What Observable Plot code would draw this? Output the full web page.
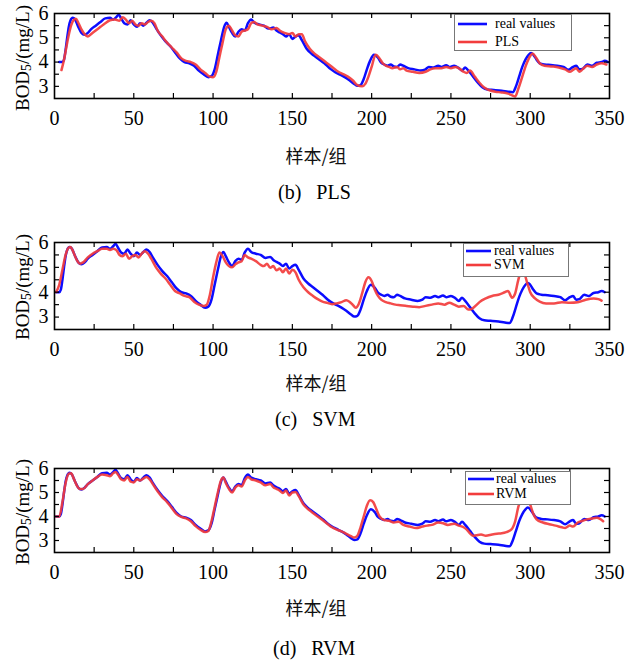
<!DOCTYPE html>
<html><head><meta charset="utf-8">
<script src="https://cdn.jsdelivr.net/npm/d3@7"></script>
<script src="https://cdn.jsdelivr.net/npm/@observablehq/plot@0.6"></script>
<style>
body{margin:0;background:#fff;}
#root{position:relative;width:637px;height:661px;overflow:hidden;font-family:"Times New Roman","Liberation Serif",Tinos,"DejaVu Serif",serif;color:#000;background:#fff;}
.panel{position:absolute;left:0;}
.ylab{position:absolute;white-space:nowrap;font-size:19px;line-height:19px;transform:translate(-50%,-50%) rotate(-90deg);}
.ylab sub{font-size:0.72em;vertical-align:-0.2em;line-height:0;}
.xlab{position:absolute;font-family:"Noto Sans CJK SC",sans-serif;font-size:18px;line-height:20px;transform:translateX(-50%);white-space:nowrap;color:#111;}
.cap{position:absolute;font-size:20px;line-height:20px;white-space:nowrap;}
.cap span{margin-left:15px;}
.legend{position:absolute;background:#fff;border:1px solid #777;box-sizing:border-box;}
.legend .row{position:absolute;height:12px;font-size:14px;line-height:12px;white-space:nowrap;}
.legend svg{position:absolute;}
</style></head><body><div id="root"></div><script>
// ---- data (sample index / BOD5 value) ----
const realT = [1,3,4,5,6,7,8,9.5,11,13,15,17,19,21,24,27,30,33,35,37,38.5,40,42,44,46,48,50,52,54,56,58,60,62,65,68,71,74,77,80,83,86,89,92,95,97,99,101,103,105,106.5,108,110,112,114,116,118,120,122,124,127,130,133,136,138,140,142,144,146,148,150,152,154,157,160,163,166,169,172,175,178,181,184,187,189,191,193,195,197,199.5,202,204,206,208,210,212,214,216,218,221,225,229,232,234,237,240,242,245,247,250,253,255,257,259,262,265,268,271,275,280,284,287,289,291,293,295,297,298.5,300,302,304,307,311,315,319,322,325,327,329,331,334,337,340,343,345,347];
const realV = [4.0,4.0,4.1,4.5,5.0,5.45,5.7,5.82,5.75,5.45,5.2,5.12,5.2,5.35,5.5,5.65,5.8,5.82,5.75,5.85,5.95,5.8,5.6,5.55,5.72,5.55,5.45,5.6,5.5,5.62,5.72,5.62,5.4,5.1,4.85,4.65,4.4,4.15,4.0,3.95,3.85,3.65,3.5,3.38,3.42,3.7,4.3,4.9,5.45,5.62,5.45,5.2,5.05,5.25,5.35,5.3,5.6,5.75,5.62,5.55,5.5,5.38,5.42,5.3,5.22,5.15,5.05,5.15,4.95,5.05,5.1,4.9,4.55,4.35,4.2,4.05,3.9,3.72,3.58,3.48,3.38,3.25,3.1,3.02,3.05,3.3,3.7,4.05,4.3,4.18,3.98,3.9,3.85,3.9,3.82,3.8,3.9,3.85,3.75,3.7,3.65,3.7,3.8,3.78,3.85,3.8,3.87,3.8,3.85,3.75,3.65,3.78,3.65,3.4,3.15,2.95,2.87,2.85,2.82,2.78,2.76,3.0,3.4,3.8,4.1,4.3,4.37,4.3,4.1,3.95,3.9,3.88,3.85,3.8,3.68,3.8,3.85,3.7,3.72,3.9,3.85,3.97,4.0,4.05,4.0];

const plsT = [4.4,6,8,10,12,13.5,15,17,19,21,23,26,29,32,35,38,41,43,45,47,49,51,53,55,57,59,61,63,65,68,71,74,77,80,83,86,89,92,95,98,100,102,104,106,108,110,112,114,116,118,120,122,124,126,128,131,134,137,140,142,145,148,150,152,154,156,158,161,164,167,170,173,176,179,182,185,188,191,194,196,198,200,202.5,205,207,209,211,213,216,218,220,222,226,230,234,237,240,244,247,250,253,256,258,260,262,265,268,271,274,278,282,286,289,290.5,292.5,295,297.5,300,301.5,303.5,306,309,314,318,322,325,327,329,331,333,336,339,342,345,348];
const plsV = [3.67,4.1,4.8,5.4,5.72,5.78,5.62,5.35,5.15,5.05,5.15,5.3,5.45,5.6,5.72,5.75,5.7,5.85,5.75,5.6,5.7,5.55,5.5,5.6,5.55,5.65,5.7,5.6,5.3,5.05,4.8,4.6,4.4,4.15,4.05,4.0,3.9,3.7,3.55,3.4,3.38,3.6,4.2,4.8,5.35,5.5,5.3,5.1,5.05,5.25,5.3,5.35,5.6,5.65,5.55,5.5,5.45,5.35,5.4,5.3,5.2,5.15,5.2,5.05,5.15,5.15,4.85,4.55,4.35,4.2,4.05,3.9,3.75,3.6,3.5,3.4,3.25,3.05,3.0,3.1,3.4,3.8,4.3,4.15,3.95,3.85,3.8,3.75,3.8,3.7,3.75,3.65,3.6,3.55,3.6,3.7,3.75,3.75,3.8,3.75,3.8,3.7,3.6,3.55,3.65,3.4,3.15,2.95,2.85,2.78,2.75,2.7,2.62,2.58,2.9,3.4,3.9,4.25,4.35,4.2,3.95,3.85,3.82,3.78,3.7,3.6,3.68,3.75,3.6,3.7,3.85,3.8,3.9,3.95,3.9];

const svmT = [1,3,5,7,9,10,12,14,16,18,21,24,27,30,33,35,37,39,41,43,45,47,49,51,53,55,57,59,61,64,67,70,73,76,79,82,85,88,91,94,96,98,100,102,104,106,108,110,112,114,116,118,120,122,124,127,130,132,134,136,138,140,142,144,146,148,150,152,154,157,160,163,166,169,172,175,178,181,184,186,188,190,192,194,196,198,200,202,204,206,209,212,215,218,222,226,230,234,238,242,246,249,252,255,258,261,263,266,268,272,276,280,284,286,288.5,290.5,292.5,294.5,296,298,300,303,306,310,315,320,325,330,335,340,343,345];
const svmV = [4.0,4.3,4.9,5.5,5.8,5.82,5.6,5.3,5.15,5.2,5.4,5.55,5.65,5.75,5.75,5.7,5.75,5.7,5.5,5.45,5.55,5.35,5.45,5.5,5.4,5.55,5.65,5.55,5.35,5.0,4.75,4.55,4.3,4.05,3.95,3.85,3.8,3.62,3.5,3.45,3.5,3.9,4.6,5.2,5.6,5.45,5.2,5.05,5.0,5.12,5.2,5.25,5.5,5.4,5.35,5.25,5.1,5.05,5.15,4.98,5.05,4.88,4.95,4.8,4.95,4.75,4.9,4.8,4.5,4.2,4.0,3.85,3.72,3.62,3.57,3.52,3.55,3.6,3.68,3.62,3.5,3.38,3.55,3.95,4.4,4.6,4.45,4.1,3.85,3.7,3.6,3.55,3.5,3.48,3.45,3.42,3.4,3.45,3.5,3.55,3.5,3.58,3.5,3.42,3.45,3.3,3.32,3.48,3.6,3.75,3.85,3.9,4.0,4.05,3.78,3.95,4.5,4.85,4.8,4.4,4.0,3.75,3.62,3.55,3.55,3.6,3.58,3.6,3.7,3.75,3.72,3.66];

const rvmT = [1,3,5,7,9,10.5,12,14,16,18,21,24,27,30,33,35,37,38.5,40,42,44,46,48,50,52,54,56,58,60,62,65,68,71,74,77,80,83,86,89,92,95,97,99,101,103,105,106.5,108,110,112,114,116,118,120,122,124,127,130,133,136,138,140,142,144,146,148,150,152,154,157,160,163,166,169,172,175,178,181,184,187,189,191,193,195,197,199,201,203,205,208,211,214,217,220,224,228,232,235,238,242,245,248,252,255,258,260,262,264,266,269,272,276,279,282,285,288,290.5,292.5,294.5,296.5,298.5,300,302,304,308,312,316,320,322,325,327,330,333,336,339,342,344,346];
const rvmV = [4.0,4.0,4.6,5.4,5.78,5.8,5.6,5.3,5.15,5.15,5.35,5.5,5.65,5.75,5.72,5.68,5.8,5.85,5.75,5.55,5.5,5.65,5.45,5.42,5.55,5.5,5.58,5.65,5.55,5.35,5.05,4.8,4.6,4.35,4.1,3.98,3.92,3.8,3.6,3.45,3.35,3.4,3.8,4.4,5.0,5.5,5.62,5.4,5.15,5.0,5.2,5.3,5.25,5.5,5.65,5.55,5.5,5.42,5.3,5.35,5.22,5.15,5.08,4.98,5.08,4.88,5.0,5.02,4.85,4.5,4.3,4.15,4.0,3.85,3.7,3.55,3.45,3.38,3.28,3.18,3.12,3.2,3.55,4.0,4.45,4.68,4.6,4.3,4.0,3.85,3.82,3.75,3.78,3.65,3.58,3.52,3.58,3.62,3.65,3.75,3.72,3.65,3.7,3.62,3.55,3.45,3.3,3.2,3.22,3.25,3.2,3.25,3.28,3.3,3.35,3.45,3.8,4.4,4.75,4.9,4.8,4.5,4.1,3.88,3.75,3.68,3.62,3.55,3.52,3.62,3.58,3.75,3.82,3.88,3.92,3.95,3.9,3.8];

const realShift = [2, 0, 0];   // sample offset of the real series within each panel
const models = ["PLS", "SVM", "RVM"];
const captions = ["(b)", "(c)", "(d)"];
const realLabel = "real values";
const xTickLabels = [0, 50, 100, 150, 200, 250, 300, 350];
const yTickLabels = [3, 4, 5, 6];
const xLabel = "样本/组";

// ---- layout / style ----
const SERIF = '"Times New Roman","Liberation Serif",Tinos,"DejaVu Serif",serif';
const BLUE = "#0c0cff", RED = "#f23c3c";
const preds = [{t: plsT, v: plsV}, {t: svmT, v: svmV}, {t: rvmT, v: rvmV}];
const layout = [
  {top: 0,   mt: 13, fh: 85, ylc: 58,  legend: {x: 454, y: 14,  w: 118, h: 37, r: [10, 28], l0: 3, l1: 32, tx: 40}, xl: 145, cap: {x: 278, y: 182}},
  {top: 229, mt: 13, fh: 87, ylc: 287, legend: {x: 463, y: 243, w: 106, h: 34, r: [8, 22],  l0: 2, l1: 27, tx: 30}, xl: 372, cap: {x: 275, y: 409}},
  {top: 455, mt: 13, fh: 84, ylc: 512, legend: {x: 465, y: 471, w: 106, h: 34, r: [8, 23],  l0: 2, l1: 28, tx: 30}, xl: 597, cap: {x: 273, y: 638}}
];
const W = 637, H = 130, ML = 54, MR = 28;
const FW = W - ML - MR;
const root = document.getElementById("root");

layout.forEach((L, i) => {
  const real = realT.map((t, j) => ({t: t + realShift[i], v: realV[j]}));
  const pred = preds[i].t.map((t, j) => ({t, v: preds[i].v[j]}));
  const xt = d3.range(25, 350, 25);
  const yt = d3.range(3, 6, 0.5);
  const tk = 5;
  const chart = Plot.plot({
    width: W, height: H,
    marginLeft: ML, marginRight: MR, marginTop: L.mt, marginBottom: H - L.mt - L.fh,
    x: {domain: [0, 350]},
    y: {domain: [2.5, 6]},
    style: {fontFamily: SERIF, fontSize: "19px", color: "#000", background: "transparent", overflow: "visible"},
    marks: [
      Plot.line(real, {x: "t", y: "v", stroke: BLUE, strokeWidth: 2.5, curve: "monotone-x"}),
      Plot.line(pred, {x: "t", y: "v", stroke: RED, strokeWidth: 2.5, strokeOpacity: 0.92, curve: "monotone-x"}),
      Plot.tickX(xt, {x: d => d, insetTop: L.fh - tk, stroke: "#000", strokeWidth: 1.2}),
      Plot.tickX(xt, {x: d => d, insetBottom: L.fh - tk, stroke: "#000", strokeWidth: 1.2}),
      Plot.tickY(yt, {y: d => d, insetRight: FW - tk, stroke: "#000", strokeWidth: 1.2}),
      Plot.tickY(yt, {y: d => d, insetLeft: FW - tk, stroke: "#000", strokeWidth: 1.2}),
      Plot.frame({stroke: "#000", strokeWidth: 1.6}),
      Plot.axisX({ticks: xTickLabels, tickSize: 0, tickPadding: 12, label: null, fontSize: 20, fontFamily: SERIF, tickFormat: d => String(d)}),
      Plot.axisY({ticks: yTickLabels, tickSize: 0, tickPadding: 6, label: null, fontSize: 20, fontFamily: SERIF, tickFormat: d => String(d)})
    ]
  });
  const wrap = document.createElement("div");
  wrap.className = "panel";
  wrap.style.top = L.top + "px";
  wrap.appendChild(chart);
  root.appendChild(wrap);

  // y-axis title
  const yl = document.createElement("div");
  yl.className = "ylab";
  yl.style.left = "22px";
  yl.style.top = L.ylc + "px";
  yl.innerHTML = "BOD<sub>5</sub>/(mg/L)";
  root.appendChild(yl);

  // x-axis title
  const xl = document.createElement("div");
  xl.className = "xlab";
  xl.style.left = "316px";
  xl.style.top = L.xl + "px";
  xl.textContent = xLabel;
  root.appendChild(xl);

  // caption
  const cp = document.createElement("div");
  cp.className = "cap";
  cp.style.left = L.cap.x + "px";
  cp.style.top = L.cap.y + "px";
  cp.textContent = captions[i];
  const sp = document.createElement("span");
  sp.textContent = models[i];
  cp.appendChild(sp);
  root.appendChild(cp);

  // legend
  const lg = L.legend;
  const box = document.createElement("div");
  box.className = "legend";
  Object.assign(box.style, {left: lg.x + "px", top: lg.y + "px", width: lg.w + "px", height: lg.h + "px"});
  [[realLabel, BLUE], [models[i], RED]].forEach(([name, color], k) => {
    const ns = "http://www.w3.org/2000/svg";
    const s = document.createElementNS(ns, "svg");
    s.setAttribute("width", lg.l1 + 2);
    s.setAttribute("height", 6);
    s.style.left = "0px";
    s.style.top = (lg.r[k] - 3 - 1) + "px";
    const ln = document.createElementNS(ns, "line");
    ln.setAttribute("x1", lg.l0); ln.setAttribute("x2", lg.l1);
    ln.setAttribute("y1", 3); ln.setAttribute("y2", 3);
    ln.setAttribute("stroke", color); ln.setAttribute("stroke-width", 2.6);
    s.appendChild(ln);
    box.appendChild(s);
    const row = document.createElement("div");
    row.className = "row";
    row.style.left = lg.tx + "px";
    row.style.top = (lg.r[k] - 6 - 1) + "px";
    row.textContent = name;
    box.appendChild(row);
  });
  root.appendChild(box);
});
</script></body></html>
